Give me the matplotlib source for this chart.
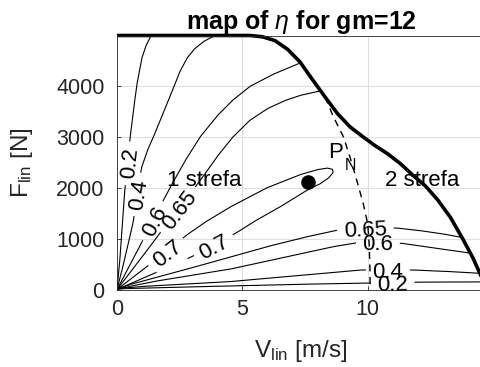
import numpy as np
import matplotlib
matplotlib.use("Agg")
import matplotlib.pyplot as plt
from matplotlib.patches import Polygon

plt.rcParams['font.family'] = ['Liberation Sans', 'DejaVu Sans']
plt.rcParams['mathtext.fontset'] = 'custom'
plt.rcParams['mathtext.rm'] = 'Liberation Sans'
plt.rcParams['mathtext.it'] = 'Liberation Sans:italic'
plt.rcParams['mathtext.bf'] = 'Liberation Sans:bold'

# max force curve F(V)
limit_v = [0, 5.3, 5.8, 6.3, 6.8, 7.3, 7.8, 8.3, 8.8, 9.3, 9.8, 10.3, 10.8,
           11.3, 11.8, 12.3, 12.8, 13.3, 13.8, 14.2, 14.5, 14.7]
limit_f = [5000, 5000, 4975, 4900, 4730, 4480, 4130, 3790, 3460, 3200, 3010,
           2830, 2670, 2480, 2250, 2040, 1760, 1420, 990, 620, 290, 0]

# border between zone 1 and zone 2 (P_N)
pn_v = [8.3, 8.63, 9.03, 9.29, 9.56, 9.82, 10.0, 10.06, 10.09, 10.1]
pn_f = [3790, 3402, 3008, 2614, 2156, 1697, 1300, 900, 400, 0]

# rated point
rated_v = 7.63
rated_f = 2122

# efficiency contours
eta02_up_v = [0, 0.1, 0.2, 0.3, 0.42, 0.52, 0.65, 0.79, 0.99, 1.15, 1.32, 1.42]
eta02_up_f = [0, 500, 1200, 1900, 2480, 2976, 3500, 4026, 4551, 4790, 4957, 5060]

eta04_up_v = [0, 0.2, 0.39, 0.65, 0.8, 0.98, 1.2, 1.45, 1.8, 2.18, 2.5, 2.8,
              3.1, 3.45, 3.8, 4.0]
eta04_up_f = [0, 380, 778, 1335, 1880, 2400, 2720, 3000, 3420, 3880, 4280,
              4560, 4740, 4880, 4970, 5030]

eta06_up_v = [0, 0.6, 1.2, 1.6, 2.11, 2.7, 3.31, 4.0, 4.6, 5.31, 6.2, 7.17, 7.6]
eta06_up_f = [0, 560, 1130, 1520, 2000, 2520, 3000, 3420, 3720, 4000, 4230,
              4430, 4520]

eta065_up_v = [0, 1.0, 2.0, 2.45, 2.98, 3.5, 4.0, 4.6, 5.3, 6.0, 6.7, 7.3, 8.1, 8.5]
eta065_up_f = [0, 640, 1300, 1600, 1925, 2270, 2620, 2990, 3330, 3560, 3720,
               3820, 3910, 3950]

eta07_v = [0, 0.7, 1.4, 1.95, 2.78, 3.5, 4.5, 5.97, 7.3, 8.0, 8.4, 8.6, 8.62,
           8.45, 8.1, 7.7, 6.63, 5.57, 4.84, 3.85, 2.98, 2.0, 1.0, 0]
eta07_f = [0, 265, 530, 730, 1073, 1320, 1620, 2000, 2260, 2360, 2390, 2365,
           2300, 2200, 2080, 1990, 1663, 1368, 1138, 870, 646, 430, 215, 0]

eta065_low_v = [0, 0.5, 1.5, 3.0, 4.5, 6.0, 7.5, 8.7, 9.9, 11.16, 12.0, 13.0, 14.0, 14.8]
eta065_low_f = [0, 95, 230, 430, 635, 845, 1030, 1160, 1215, 1210, 1165, 1095, 1000, 930]

eta06_low_v = [0, 0.5, 1.5, 3.0, 4.5, 6.0, 7.5, 8.63, 9.5, 10.4, 11.36, 12.5, 13.68, 14.8]
eta06_low_f = [0, 60, 160, 280, 400, 560, 720, 843, 915, 925, 909, 830, 744, 670]

eta04_low_v = [0, 0.3, 1.0, 2.5, 4.5, 7.0, 9.69, 10.8, 11.82, 13.0, 14.48, 14.8]
eta04_low_f = [0, 30, 60, 100, 155, 265, 384, 388, 384, 360, 319, 312]

eta02_low_v = [0, 0.5, 2.0, 4.5, 7.0, 9.82, 11.0, 12.09, 14.8]
eta02_low_f = [0, 20, 40, 70, 100, 125, 135, 145, 150]

x_ticks = [0, 5, 10]
y_ticks = [0, 1000, 2000, 3000, 4000]

# lines with their inline labels (approximate label spots)
contours = [
    (eta02_up_v, eta02_up_f, [('0.2', 0.42, 2480)]),
    (eta04_up_v, eta04_up_f, [('0.4', 0.8, 1880)]),
    (eta06_up_v, eta06_up_f, [('0.6', 1.45, 1350)]),
    (eta065_up_v, eta065_up_f, [('0.65', 2.4, 1580)]),
    (eta07_v, eta07_f, [('0.7', 1.95, 730), ('0.7', 3.85, 870)]),
    (eta065_low_v, eta065_low_f, [('0.65', 9.9, 1215)]),
    (eta06_low_v, eta06_low_f, [('0.6', 10.4, 925)]),
    (eta04_low_v, eta04_low_f, [('0.4', 10.8, 388)]),
    (eta02_low_v, eta02_low_f, [('0.2', 11.0, 135)]),
]

fig = plt.figure(figsize=(4.81, 3.67), dpi=100)
ax = fig.add_axes([117 / 481, 77.5 / 367, 368.5 / 481, 254 / 367])
ax.set_xlim(0, 14.7)
ax.set_ylim(0, 5000)
ax.set_xticks(x_ticks)
ax.set_yticks(y_ticks)
ax.grid(True, color='0.87', linewidth=0.8)
ax.set_axisbelow(True)
ax.tick_params(direction='in', length=3, width=0.6, colors='0.15', labelsize=15.5)
ax.tick_params(axis='x', pad=7)
ax.tick_params(axis='y', pad=9)
for sp in ax.spines.values():
    sp.set_color('0.15')
    sp.set_linewidth(0.6)

renderer = fig.canvas.get_renderer()
clip = Polygon(np.column_stack([limit_v + [0], limit_f + [0]]), transform=ax.transData)

for v, f, labels in contours:
    pts = ax.transData.transform(np.column_stack([v, f]))
    seg = np.hypot(*np.diff(pts, axis=0).T)
    s = np.concatenate([[0], np.cumsum(seg)])
    t = np.linspace(0, s[-1], int(s[-1]) * 2 + 2)
    dense = np.column_stack([np.interp(t, s, pts[:, 0]), np.interp(t, s, pts[:, 1])])
    keep = np.ones(len(dense), bool)
    for txt, lv, lf in labels:
        c = ax.transData.transform((lv, lf))
        i = np.argmin(np.hypot(*(dense - c).T))
        a = dense[max(i - 16, 0)]
        b = dense[min(i + 16, len(dense) - 1)]
        ang = np.degrees(np.arctan2(b[1] - a[1], b[0] - a[0]))
        if ang > 90:
            ang -= 180
        if ang < -90:
            ang += 180
        pos = ax.transData.inverted().transform(dense[i])
        tx = ax.text(pos[0], pos[1], txt, fontsize=16, ha='center',
                     va='center_baseline', rotation_mode='anchor')
        w = tx.get_window_extent(renderer).width
        tx.set_rotation(ang)
        keep &= np.hypot(*(dense - dense[i]).T) > w / 2 + 7
    dense[~keep] = np.nan
    d = ax.transData.inverted().transform(dense)
    ln, = ax.plot(d[:, 0], d[:, 1], color='k', linewidth=0.8)
    ln.set_clip_path(clip)

ax.plot(limit_v, limit_f, color='k', linewidth=2.6, clip_on=False, solid_capstyle='butt')
ax.plot(pn_v, pn_f, color='k', linewidth=1.0, dashes=(5, 4))
ax.plot(rated_v, rated_f, 'o', color='k', markersize=9.5)

ax.text(3.47, 2155, '1 strefa', fontsize=16, ha='center', va='center')
ax.text(12.19, 2155, '2 strefa', fontsize=16, ha='center', va='center')
ax.text(8.42, 2590, 'P', fontsize=16, ha='left', va='baseline')
ax.text(9.1, 2352, 'N', fontsize=11.5, ha='left', va='baseline')

ax.set_title('map of $\\eta$ for gm=12', fontsize=18, fontweight='bold', pad=5)
ax.set_xlabel('V$_{\\mathrm{lin}}$ [m/s]', fontsize=17.5, color='0.15')
ax.set_ylabel('F$_{\\mathrm{lin}}$ [N]', fontsize=17.5, color='0.15')
ax.xaxis.set_label_coords(0.5, -0.19)
ax.yaxis.set_label_coords(-0.222, 0.5)

fig.savefig('out.png', dpi=100)
